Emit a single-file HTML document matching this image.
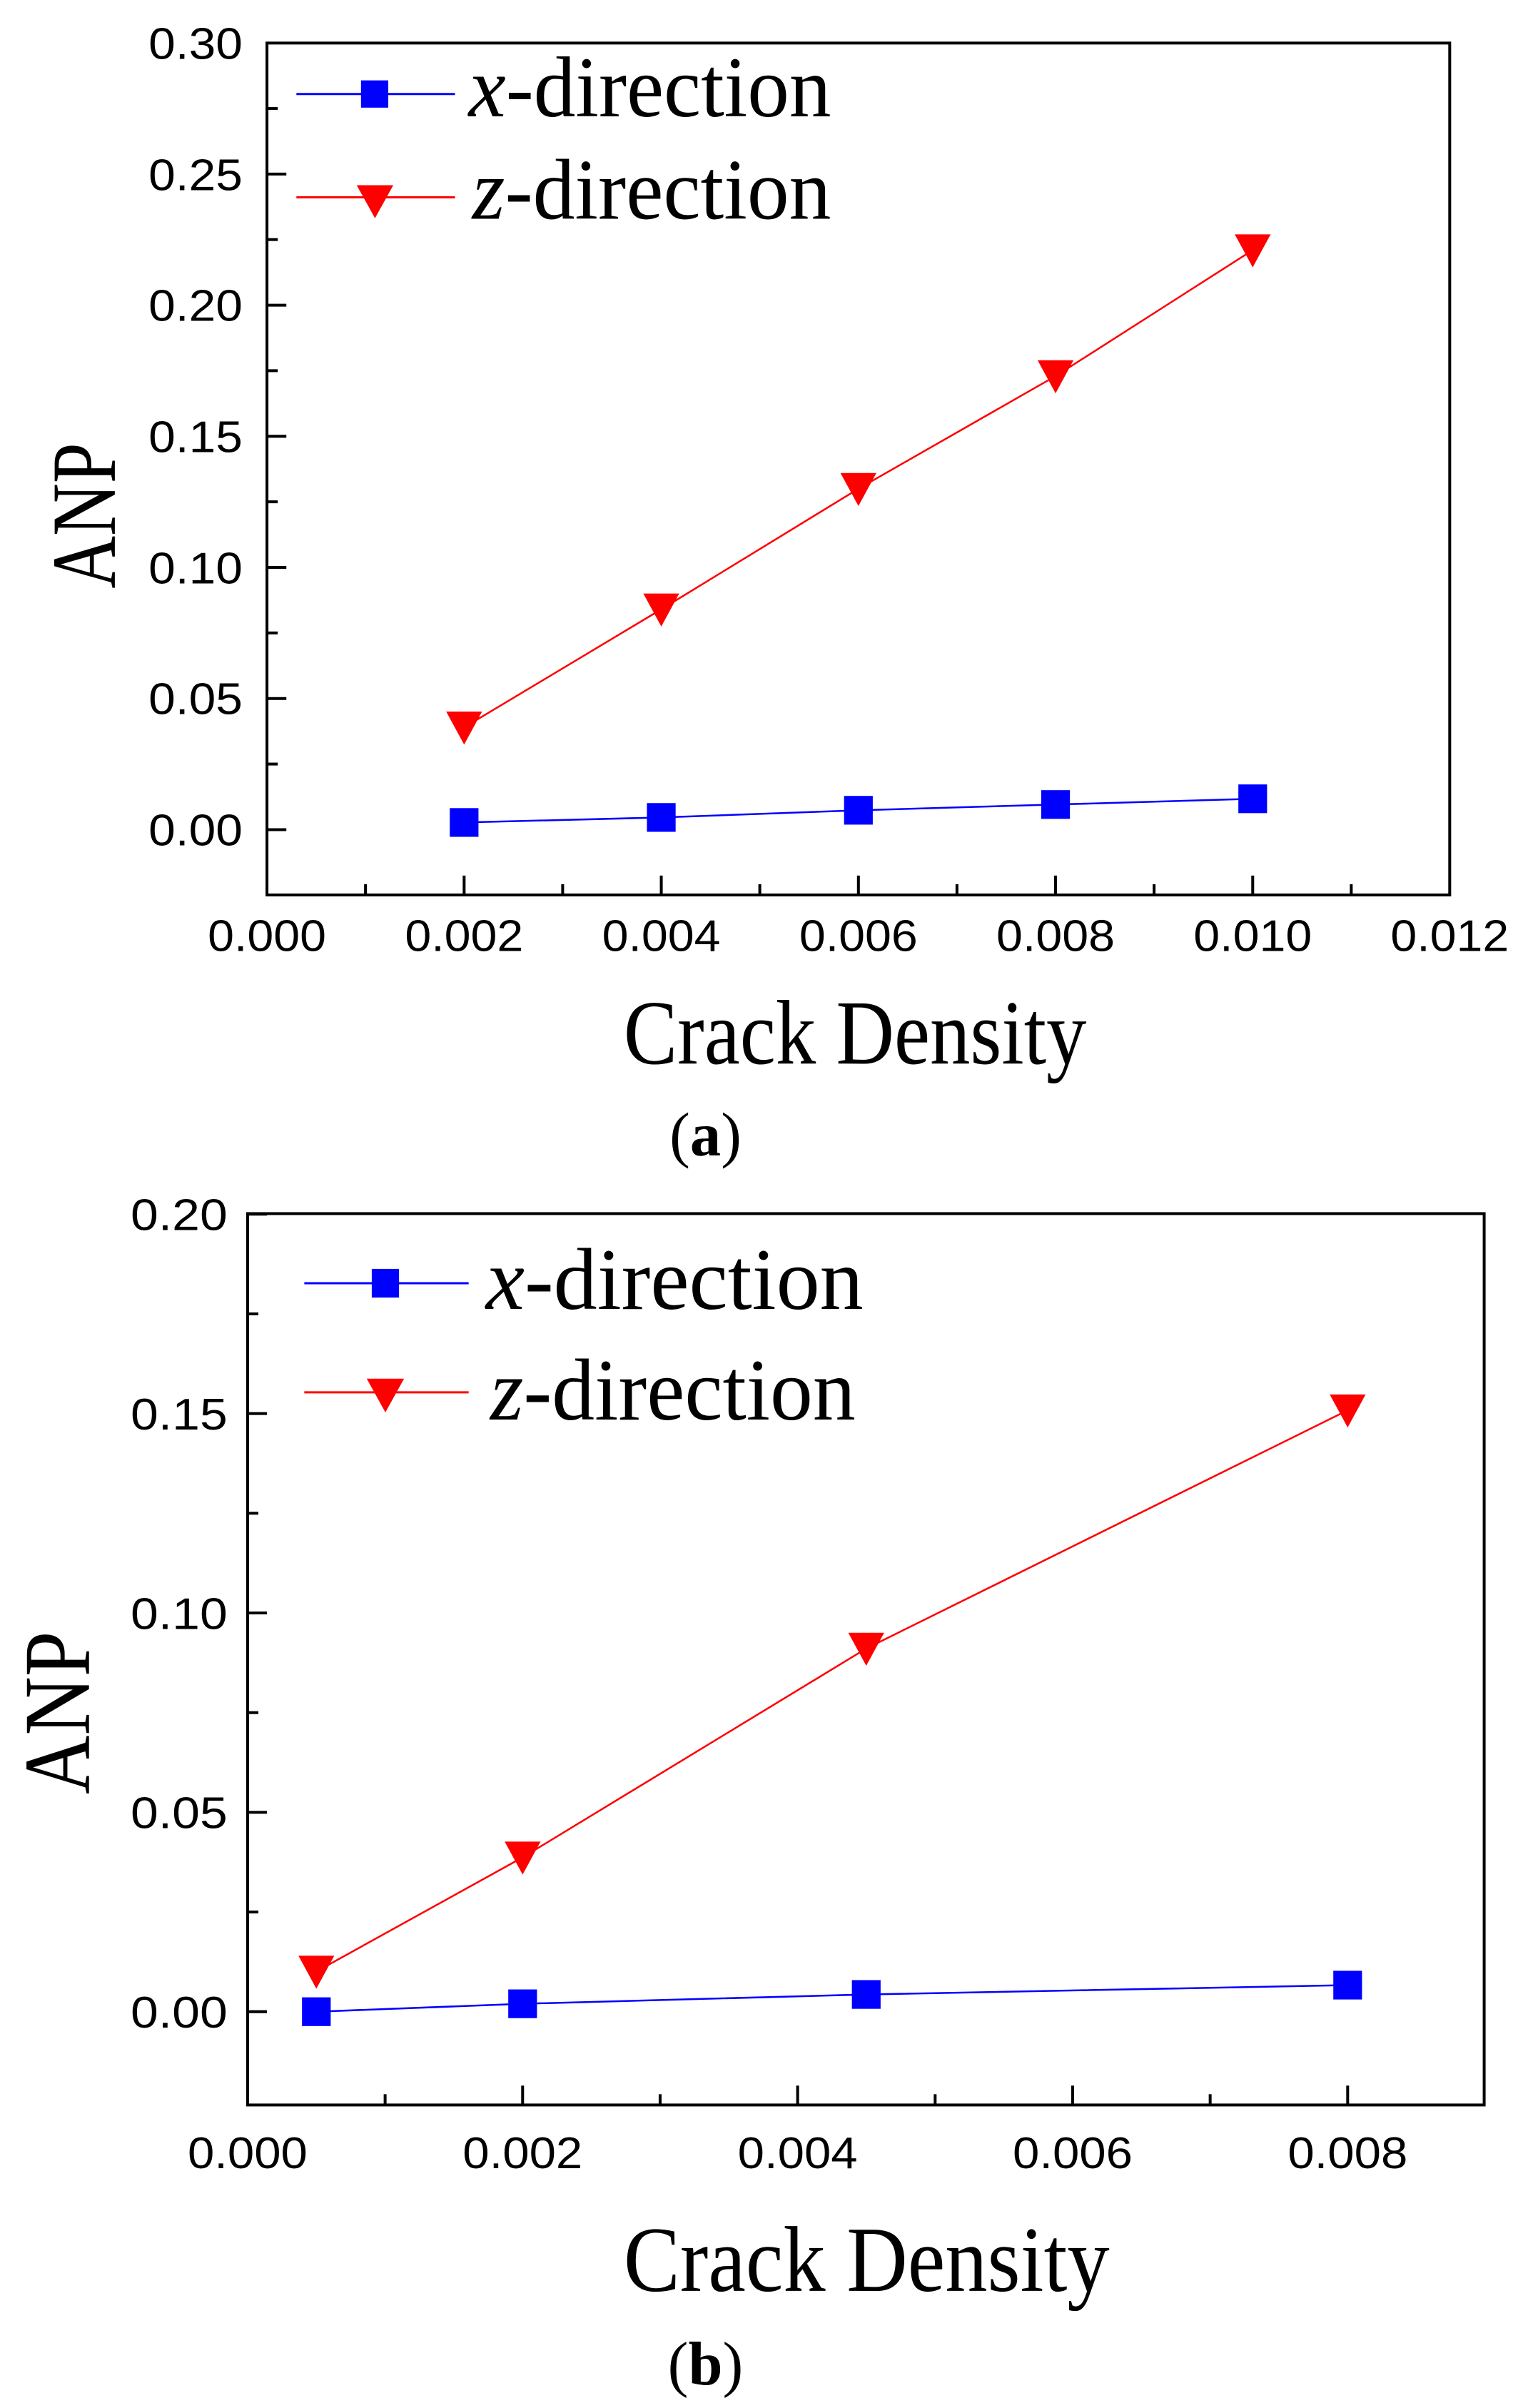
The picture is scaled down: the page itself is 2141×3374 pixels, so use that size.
<!DOCTYPE html>
<html><head><meta charset="utf-8"><style>
html,body{margin:0;padding:0;background:#fff}
svg{display:block}
.t{font-family:"Liberation Sans",Arial,sans-serif;font-size:62px;fill:#000}
.s{font-family:"Liberation Serif","Times New Roman",serif;fill:#000}
</style></head><body>
<svg width="2141" height="3374" viewBox="0 0 2141 3374" xmlns="http://www.w3.org/2000/svg">
<rect width="2141" height="3374" fill="#fff"/>
<g transform="scale(1.0056)">
<!-- ===== Plot (a) ===== -->
<rect x="372" y="60" width="1648" height="1187" fill="none" stroke="#000" stroke-width="4"/>
<g stroke="#000" stroke-width="4">
<line x1="372" y1="1156" x2="399" y2="1156"/>
<line x1="372" y1="973.3" x2="399" y2="973.3"/>
<line x1="372" y1="790.6" x2="399" y2="790.6"/>
<line x1="372" y1="607.9" x2="399" y2="607.9"/>
<line x1="372" y1="425.2" x2="399" y2="425.2"/>
<line x1="372" y1="242.5" x2="399" y2="242.5"/>
<line x1="372" y1="1064.6" x2="387" y2="1064.6"/>
<line x1="372" y1="881.9" x2="387" y2="881.9"/>
<line x1="372" y1="699.2" x2="387" y2="699.2"/>
<line x1="372" y1="516.5" x2="387" y2="516.5"/>
<line x1="372" y1="333.8" x2="387" y2="333.8"/>
<line x1="372" y1="151.1" x2="387" y2="151.1"/>
<line x1="646.7" y1="1247" x2="646.7" y2="1220"/>
<line x1="921.4" y1="1247" x2="921.4" y2="1220"/>
<line x1="1196.1" y1="1247" x2="1196.1" y2="1220"/>
<line x1="1470.8" y1="1247" x2="1470.8" y2="1220"/>
<line x1="1745.5" y1="1247" x2="1745.5" y2="1220"/>
<line x1="509.3" y1="1247" x2="509.3" y2="1232"/>
<line x1="784" y1="1247" x2="784" y2="1232"/>
<line x1="1058.7" y1="1247" x2="1058.7" y2="1232"/>
<line x1="1333.4" y1="1247" x2="1333.4" y2="1232"/>
<line x1="1608.1" y1="1247" x2="1608.1" y2="1232"/>
<line x1="1882.8" y1="1247" x2="1882.8" y2="1232"/>
</g>
<g class="t">
<text x="207" y="1178" textLength="131" lengthAdjust="spacingAndGlyphs">0.00</text>
<text x="207" y="995" textLength="131" lengthAdjust="spacingAndGlyphs">0.05</text>
<text x="207" y="813" textLength="131" lengthAdjust="spacingAndGlyphs">0.10</text>
<text x="207" y="630" textLength="131" lengthAdjust="spacingAndGlyphs">0.15</text>
<text x="207" y="447" textLength="131" lengthAdjust="spacingAndGlyphs">0.20</text>
<text x="207" y="265" textLength="131" lengthAdjust="spacingAndGlyphs">0.25</text>
<text x="207" y="82" textLength="131" lengthAdjust="spacingAndGlyphs">0.30</text>
</g>
<g class="t">
<text x="289.5" y="1325" textLength="165" lengthAdjust="spacingAndGlyphs">0.000</text>
<text x="564.2" y="1325" textLength="165" lengthAdjust="spacingAndGlyphs">0.002</text>
<text x="838.9" y="1325" textLength="165" lengthAdjust="spacingAndGlyphs">0.004</text>
<text x="1113.6" y="1325" textLength="165" lengthAdjust="spacingAndGlyphs">0.006</text>
<text x="1388.3" y="1325" textLength="165" lengthAdjust="spacingAndGlyphs">0.008</text>
<text x="1663" y="1325" textLength="165" lengthAdjust="spacingAndGlyphs">0.010</text>
<text x="1937.5" y="1325" textLength="165" lengthAdjust="spacingAndGlyphs">0.012</text>
</g>
<polyline points="646.7,1013.5 921.4,849 1196.1,681 1470.8,524 1745.5,348.5" fill="none" stroke="#f00" stroke-width="2.5"/>
<polyline points="646.7,1146 921.4,1139 1196.1,1129 1470.8,1121 1745.5,1113" fill="none" stroke="#00f" stroke-width="2.5"/>
<g fill="#f00">
<polygon points="621.7,991.5 671.7,991.5 646.7,1037.5"/>
<polygon points="896.4,827 946.4,827 921.4,873"/>
<polygon points="1171.1,659 1221.1,659 1196.1,705"/>
<polygon points="1445.8,502 1495.8,502 1470.8,548"/>
<polygon points="1720.5,326.5 1770.5,326.5 1745.5,372.5"/>
</g>
<g fill="#00f">
<rect x="626.7" y="1126" width="40" height="40"/>
<rect x="901.4" y="1119" width="40" height="40"/>
<rect x="1176.1" y="1109" width="40" height="40"/>
<rect x="1450.8" y="1101" width="40" height="40"/>
<rect x="1725.5" y="1093" width="40" height="40"/>
</g>
<line x1="413" y1="131" x2="634" y2="131" stroke="#00f" stroke-width="3"/>
<rect x="503" y="112" width="38" height="38" fill="#00f"/>
<line x1="413" y1="275" x2="634" y2="275" stroke="#f00" stroke-width="3"/>
<polygon points="497,258 548,258 522.5,304" fill="#f00"/>
<text class="s" x="653" y="162" font-size="120" textLength="505" lengthAdjust="spacingAndGlyphs"><tspan font-style="italic">x</tspan>-direction</text>
<text class="s" x="658" y="305" font-size="120" textLength="500" lengthAdjust="spacingAndGlyphs"><tspan font-style="italic">z</tspan>-direction</text>
<text class="s" x="869" y="1482" font-size="128" textLength="645" lengthAdjust="spacingAndGlyphs">Crack Density</text>
<text class="s" font-size="128" transform="translate(160,820) rotate(-90)" textLength="203" lengthAdjust="spacingAndGlyphs">ANP</text>
<text class="s" x="983" y="1610" font-size="86" text-anchor="middle">(<tspan font-weight="bold">a</tspan>)</text>

<!-- ===== Plot (b) ===== -->
<rect x="345" y="1691" width="1723" height="1242" fill="none" stroke="#000" stroke-width="4"/>
<g stroke="#000" stroke-width="4">
<line x1="345" y1="2803" x2="372" y2="2803"/>
<line x1="345" y1="2525.2" x2="372" y2="2525.2"/>
<line x1="345" y1="2247.4" x2="372" y2="2247.4"/>
<line x1="345" y1="1969.6" x2="372" y2="1969.6"/>
<line x1="345" y1="1691.8" x2="372" y2="1691.8"/>
<line x1="345" y1="2664.1" x2="360" y2="2664.1"/>
<line x1="345" y1="2386.3" x2="360" y2="2386.3"/>
<line x1="345" y1="2108.5" x2="360" y2="2108.5"/>
<line x1="345" y1="1830.7" x2="360" y2="1830.7"/>
<line x1="728.2" y1="2933" x2="728.2" y2="2906"/>
<line x1="1111.4" y1="2933" x2="1111.4" y2="2906"/>
<line x1="1494.6" y1="2933" x2="1494.6" y2="2906"/>
<line x1="1877.8" y1="2933" x2="1877.8" y2="2906"/>
<line x1="536.6" y1="2933" x2="536.6" y2="2918"/>
<line x1="919.8" y1="2933" x2="919.8" y2="2918"/>
<line x1="1303" y1="2933" x2="1303" y2="2918"/>
<line x1="1686.2" y1="2933" x2="1686.2" y2="2918"/>
</g>
<g class="t">
<text x="182" y="2825" textLength="135" lengthAdjust="spacingAndGlyphs">0.00</text>
<text x="182" y="2547" textLength="135" lengthAdjust="spacingAndGlyphs">0.05</text>
<text x="182" y="2270" textLength="135" lengthAdjust="spacingAndGlyphs">0.10</text>
<text x="182" y="1992" textLength="135" lengthAdjust="spacingAndGlyphs">0.15</text>
<text x="182" y="1714" textLength="135" lengthAdjust="spacingAndGlyphs">0.20</text>
</g>
<g class="t">
<text x="261.5" y="3021" textLength="167" lengthAdjust="spacingAndGlyphs">0.000</text>
<text x="644.7" y="3021" textLength="167" lengthAdjust="spacingAndGlyphs">0.002</text>
<text x="1027.9" y="3021" textLength="167" lengthAdjust="spacingAndGlyphs">0.004</text>
<text x="1411.1" y="3021" textLength="167" lengthAdjust="spacingAndGlyphs">0.006</text>
<text x="1794.3" y="3021" textLength="167" lengthAdjust="spacingAndGlyphs">0.008</text>
</g>
<polyline points="440.8,2747 728.2,2588 1207,2297 1877.8,1965" fill="none" stroke="#f00" stroke-width="2.5"/>
<polyline points="440.8,2803 728.2,2792 1207,2779 1877.8,2766" fill="none" stroke="#00f" stroke-width="2.5"/>
<g fill="#f00">
<polygon points="415.8,2725 465.8,2725 440.8,2771"/>
<polygon points="703.2,2566 753.2,2566 728.2,2612"/>
<polygon points="1182,2275 1232,2275 1207,2321"/>
<polygon points="1852.8,1943 1902.8,1943 1877.8,1989"/>
</g>
<g fill="#00f">
<rect x="420.8" y="2783" width="40" height="40"/>
<rect x="708.2" y="2772" width="40" height="40"/>
<rect x="1187" y="2759" width="40" height="40"/>
<rect x="1857.8" y="2746" width="40" height="40"/>
</g>
<line x1="424" y1="1788" x2="653" y2="1788" stroke="#00f" stroke-width="3"/>
<rect x="518" y="1768" width="38" height="40" fill="#00f"/>
<line x1="424" y1="1940" x2="653" y2="1940" stroke="#f00" stroke-width="3"/>
<polygon points="511,1921 563,1921 537,1968" fill="#f00"/>
<text class="s" x="677" y="1824" font-size="122" textLength="526" lengthAdjust="spacingAndGlyphs"><tspan font-style="italic">x</tspan>-direction</text>
<text class="s" x="683" y="1978" font-size="122" textLength="509" lengthAdjust="spacingAndGlyphs"><tspan font-style="italic">z</tspan>-direction</text>
<text class="s" x="869" y="3192" font-size="130" textLength="677" lengthAdjust="spacingAndGlyphs">Crack Density</text>
<text class="s" font-size="132" transform="translate(124,2500) rotate(-90)" textLength="227" lengthAdjust="spacingAndGlyphs">ANP</text>
<text class="s" x="983" y="3323" font-size="86" text-anchor="middle">(<tspan font-weight="bold">b</tspan>)</text>
</g>
</svg>
</body></html>
